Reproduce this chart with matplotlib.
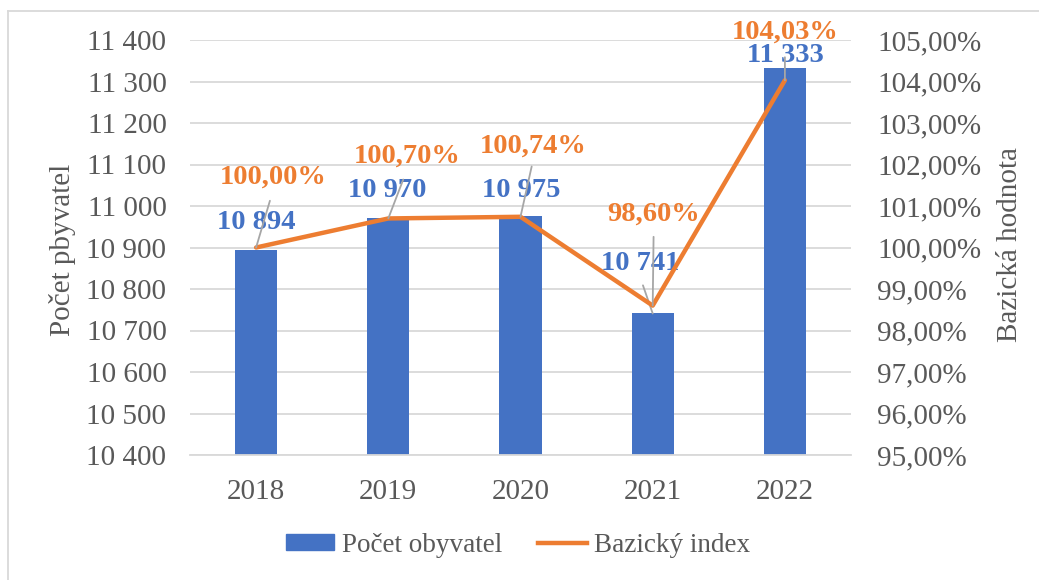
import numpy as np
import matplotlib.pyplot as plt
from matplotlib.lines import Line2D
from matplotlib.patches import Patch

plt.rcParams['font.family'] = ['Liberation Serif', 'DejaVu Serif']

years = ['2018', '2019', '2020', '2021', '2022']
population = [10894, 10970, 10975, 10741, 11333]
base_index = [100.00, 100.70, 100.74, 98.60, 104.03]

left_ticks = [10400, 10500, 10600, 10700, 10800, 10900, 11000, 11100, 11200, 11300, 11400]
right_ticks = [95, 96, 97, 98, 99, 100, 101, 102, 103, 104, 105]

blue = '#4472C4'
orange = '#ED7D31'
grey_txt = '#595959'
grid_c = '#D9D9D9'
lead_c = '#A6A6A6'

fig = plt.figure(figsize=(10.39, 5.8), dpi=100)
ax = fig.add_axes([190 / 1039, 1 - 455 / 580, 661 / 1039, 415 / 580])
ax2 = ax.twinx()

x = np.arange(len(years))
ax.bar(x, population, width=0.32, color=blue, zorder=2)
ax.set_ylim(10400, 11400)
ax.set_xlim(-0.5, 4.5)
ax.set_yticks(left_ticks)
ax.set_yticklabels(['{:,}'.format(v).replace(',', ' ') for v in left_ticks])
ax.set_xticks(x)
ax.set_xticklabels(years)
ax.grid(axis='y', color=grid_c, lw=1.3, zorder=0)
ax.set_axisbelow(True)
for s in ax.spines.values():
    s.set_visible(False)
for s in ax2.spines.values():
    s.set_visible(False)
ax.spines['bottom'].set_visible(True)
ax.spines['bottom'].set_color(grid_c)
ax.spines['bottom'].set_linewidth(1.3)
ax.tick_params(axis='y', length=0, labelsize=21, colors=grey_txt, pad=17)
ax.tick_params(axis='x', length=0, labelsize=21, colors=grey_txt, pad=17)

ax2.plot(x, base_index, color=orange, lw=3.2, solid_capstyle='round', zorder=3)
ax2.set_ylim(95, 105)
ax2.set_yticks(right_ticks)
ax2.set_yticklabels(['{:.2f}%'.format(v).replace('.', ',') for v in right_ticks])
ax2.tick_params(axis='y', length=0, labelsize=21, colors=grey_txt, pad=19)

fig.text(62 / 1039, 1 - 250 / 580, 'Počet pbyvatel', rotation=90, ha='center', va='center',
         fontsize=21, color=grey_txt)
fig.text(1010 / 1039, 1 - 245 / 580, 'Bazická hodnota', rotation=90, ha='center', va='center',
         fontsize=21, color=grey_txt)

# data labels (offsets in pixels, y up)
pct_off = [(17, 70), (19, 62), (13, 71), (1, 91), (0, 48)]
pct_shrink = [6, 6, 4, 5, 7]
for i, v in enumerate(base_index):
    ax2.annotate('{:.2f}%'.format(v).replace('.', ','), (x[i], v), xytext=pct_off[i],
                 textcoords='offset pixels', ha='center', va='center', fontsize=20.5,
                 fontweight='bold', color=orange, zorder=5,
                 arrowprops=dict(arrowstyle='-', color=lead_c, lw=1.3, relpos=(0.5, 0),
                                 shrinkA=pct_shrink[i], shrinkB=0))

bar_off = [(0, 27), (-1, 28), (1, 26), (-13, 50), (0, 12)]
for i, v in enumerate(population):
    kw = {}
    if i == 3:
        kw['arrowprops'] = dict(arrowstyle='-', color=lead_c, lw=1.3, relpos=(0.5, 0),
                                shrinkA=5, shrinkB=0)
    ax.annotate('{:,}'.format(v).replace(',', ' '), (x[i], v), xytext=bar_off[i],
                textcoords='offset pixels', ha='center', va='center', fontsize=20.5,
                fontweight='bold', color=blue, zorder=5, **kw)

handles = [Patch(color=blue, label='Počet obyvatel'),
           Line2D([0], [0], color=orange, lw=3.2, label='Bazický index')]
fig.legend(handles=handles, loc='center', bbox_to_anchor=(518 / 1039, 1 - 545 / 580), ncol=2,
           frameon=False, fontsize=19.5, labelcolor=grey_txt, handlelength=1.8,
           handleheight=0.5, handletextpad=0.26, columnspacing=1.35)

# chart frame (top/left edges visible)
fig.add_artist(Line2D([8 / 1039, 8 / 1039], [0, 1 - 11 / 580], color=grid_c, lw=1.3))
fig.add_artist(Line2D([8 / 1039, 1], [1 - 11 / 580, 1 - 11 / 580], color=grid_c, lw=1.3))

fig.savefig('out.png', dpi=100)
